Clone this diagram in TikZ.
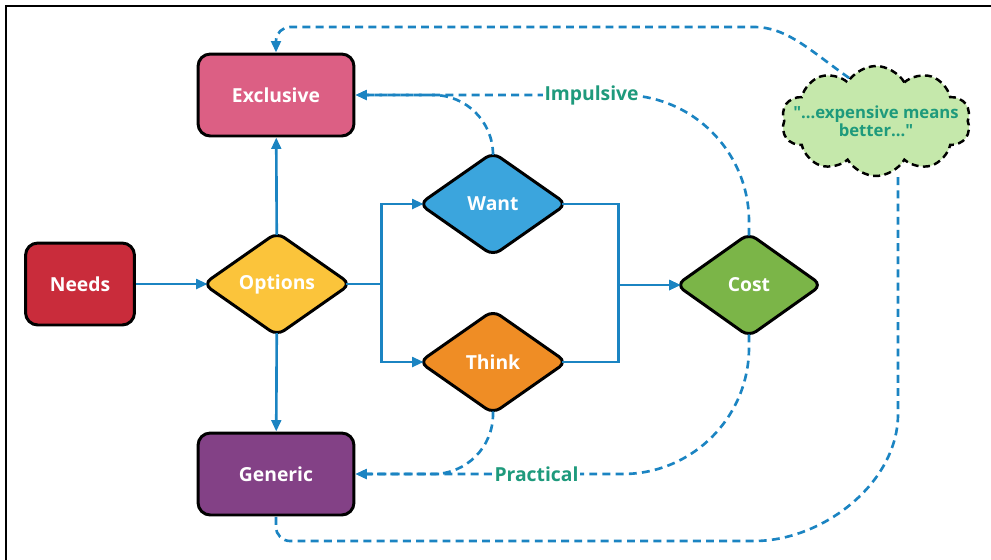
\documentclass[tikz,border=0pt]{standalone}
\usepackage{fontspec}
\setmainfont{Open Sans}
\usetikzlibrary{shapes.geometric,shapes.symbols,arrows.meta,backgrounds}

\definecolor{linkblue}{HTML}{1B84C2}
\definecolor{tagteal}{HTML}{1E9A7C}
\definecolor{needsred}{HTML}{C92C3B}
\definecolor{optyellow}{HTML}{FBC43B}
\definecolor{exclpink}{HTML}{DC5F84}
\definecolor{genpurple}{HTML}{834186}
\definecolor{wantblue}{HTML}{3BA5DD}
\definecolor{thinkorange}{HTML}{EF8D25}
\definecolor{costgreen}{HTML}{7BB548}
\definecolor{cloudgreen}{HTML}{C5E8AB}

\tikzset{
  box/.style={draw=black, line width=1.7pt, rounded corners=7pt, minimum width=3.12cm, minimum height=1.64cm, text=white, font=\bfseries\fontsize{11}{13}\selectfont},
  choice/.style={diamond, minimum width=2.76cm, minimum height=1.96cm, inner sep=0pt, text=white, font=\bfseries\fontsize{11}{13}\selectfont},
  flow/.style={draw=linkblue, line width=1.5pt, -{Triangle[length=6.5pt,width=5.5pt]}},
  maybe/.style={flow, dash pattern=on 4.5pt off 3pt},
  tag/.style={text=tagteal, fill=white, sharp corners, inner sep=1pt, font=\bfseries\fontsize{11}{13}\selectfont}
}

\begin{document}
\begin{tikzpicture}[x=0.02cm, y=-0.02cm]
  \useasboundingbox (0,0) rectangle (991,559);
  \draw[line width=1.6pt] (6,600) |- (1100,6);

  % the nodes
  \node[box, fill=needsred, minimum width=2.18cm] (needs) at (80,284) {Needs};
  \node[choice] (options) at (277,284) {Options};
  \node[box, fill=exclpink] (exclusive) at (276,95) {Exclusive};
  \node[box, fill=genpurple] (generic) at (276,474) {Generic};
  \node[choice] (want) at (493,204) {Want};
  \node[choice] (think) at (493,362) {Think};
  \node[choice, minimum width=2.72cm] (cost) at (749,285) {Cost};
  \node[cloud, cloud puffs=10, cloud puff arc=120, draw=black, fill=cloudgreen, line width=1.4pt, dash pattern=on 4pt off 2.5pt, minimum width=3.78cm, minimum height=2.2cm, inner sep=0pt,
        label={[text=tagteal, align=center, font=\bfseries\fontsize{9.5}{10.5}\selectfont]center:\textquotedbl...expensive means\\better...\textquotedbl}] (cloud) at (876,121) {};

  % rounded diamonds behind the text
  \begin{scope}[on background layer]
    \foreach \n/\c in {options/optyellow, want/wantblue, think/thinkorange, cost/costgreen}
      \draw[fill=\c, line width=1.7pt, rounded corners=5pt] ([yshift=1.2pt]\n.north) -- ([xshift=2.4pt]\n.east) -- ([yshift=-1.2pt]\n.south) -- ([xshift=-2.4pt]\n.west) -- cycle;
  \end{scope}

  % solid links
  \draw[flow] (needs) -- (options);
  \draw[flow] (options) -- (exclusive);
  \draw[flow] (options) -- (generic);
  \draw[flow] (options.east) -- ++(35,0) |- (want.west);
  \draw[flow] (options.east) -- ++(35,0) |- (think.west);
  \draw[flow] (want.east) -- ++(56,0) |- (cost.west);
  \draw[flow] (think.east) -- ++(56,0) |- (cost.west);

  % dashed links
  \coordinate (high) at (740,27);
  \coordinate (bend) at (898,400);
  \coordinate (low) at (740,541);
  \draw[maybe, rounded corners=34pt] (want.north) |- (exclusive.east);
  \draw[maybe, rounded corners=72pt] (cost.north) |- node[tag, pos=0.7] {Impulsive} (exclusive.east);
  \draw[maybe, rounded corners=34pt] (think.south) |- (generic.east);
  \draw[maybe, rounded corners=72pt] (cost.south) |- node[tag, pos=0.77] {Practical} (generic.east);
  \draw[maybe, rounded corners=8pt] (cloud.122) to[out=145,in=0] (high) -| (exclusive.north);
  \draw[maybe, -, rounded corners=8pt] (bend |- cloud.south) -- (bend) to[out=-90,in=0] (low) -| (generic.south);
\end{tikzpicture}
\end{document}
